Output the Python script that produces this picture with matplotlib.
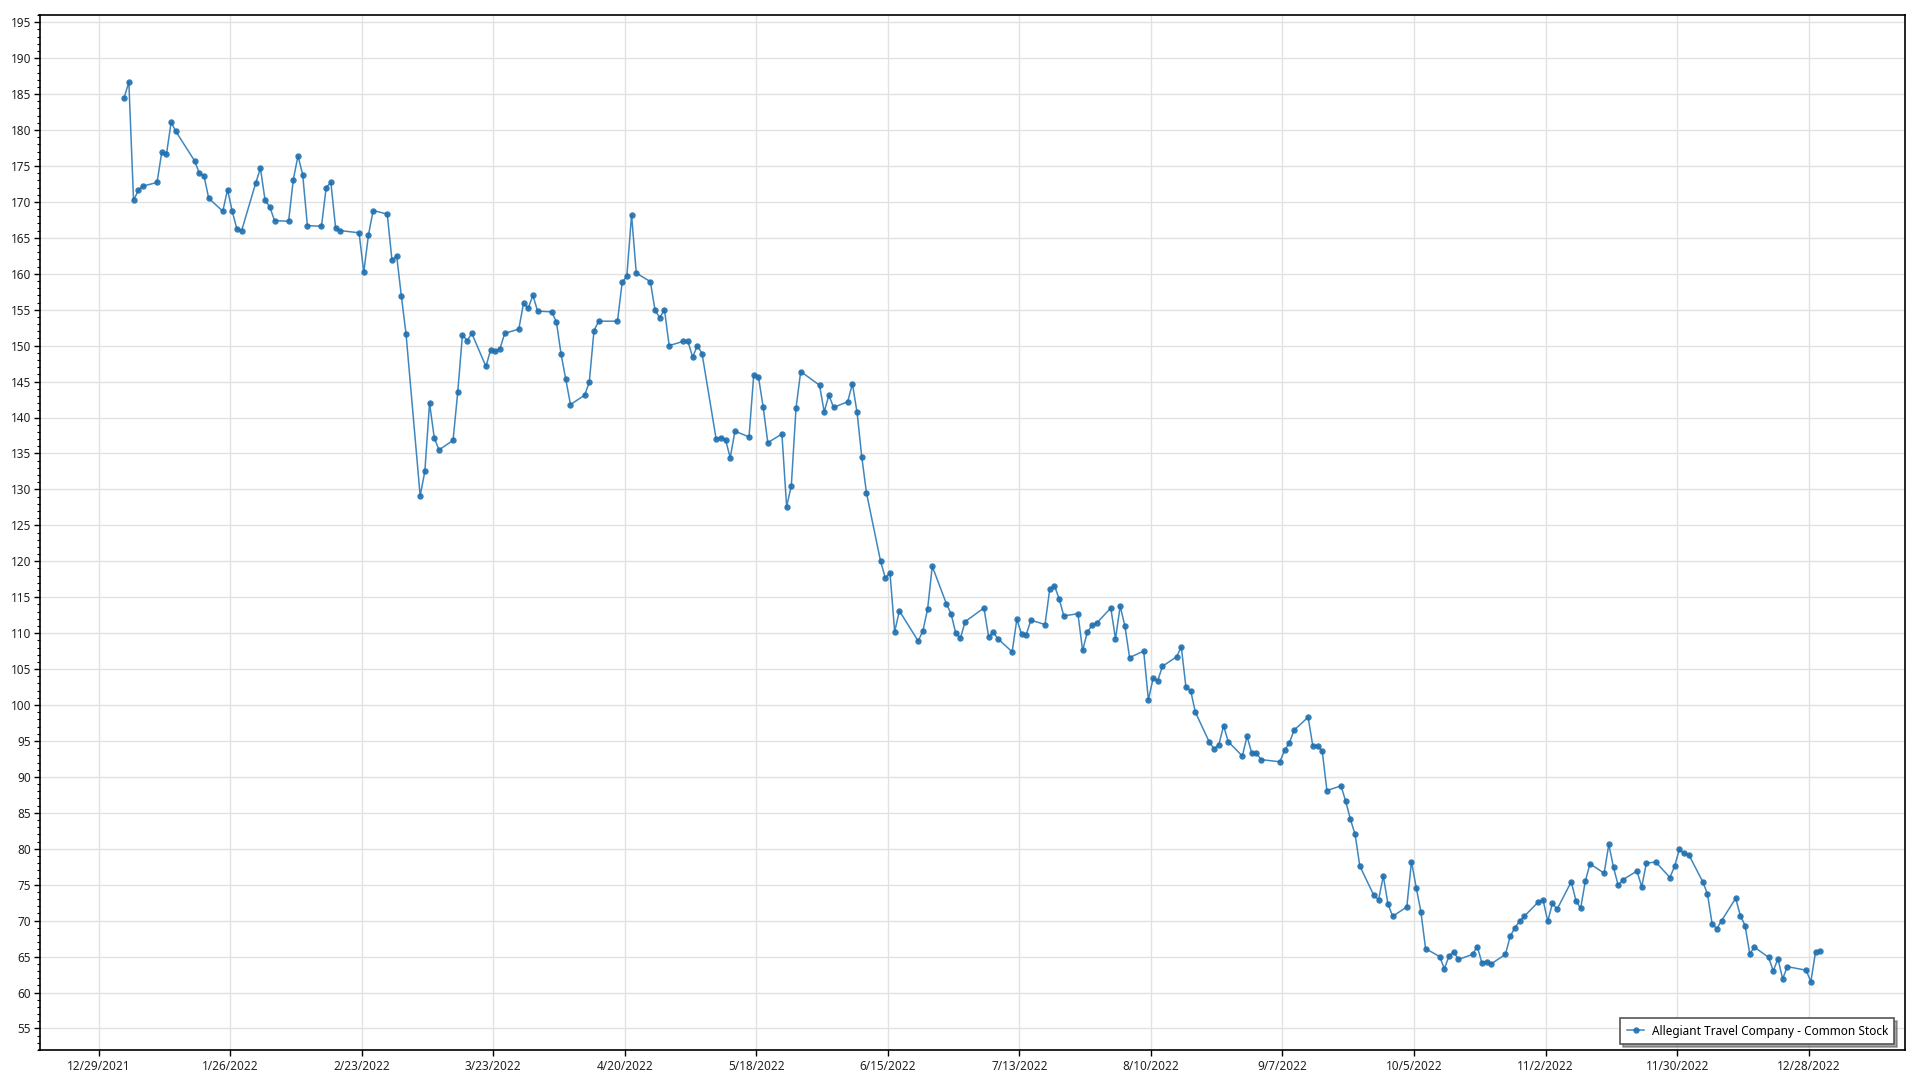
import matplotlib
matplotlib.use("Agg")
import matplotlib.pyplot as plt
import matplotlib.dates as mdates
from matplotlib.ticker import MultipleLocator, FixedLocator, FuncFormatter
import pandas as pd
import numpy as np

# ---------------- data ----------------
series_name = "Allegiant Travel Company - Common Stock"

holidays_2022 = ["2022-01-17", "2022-02-21", "2022-04-15", "2022-05-30", "2022-06-20",
                 "2022-07-04", "2022-09-05", "2022-11-24", "2022-12-26"]

jan = [184.5, 186.65, 170.2, 171.6, 172.2, 172.7, 176.9, 176.6, 181.1, 179.8,
       175.7, 174.0, 173.6, 170.5, 168.7, 171.7, 168.7, 166.2, 166.0, 172.6]
feb = [174.7, 170.2, 169.3, 167.4, 167.3, 173.1, 176.4, 173.8, 166.7, 166.6,
       172.0, 172.7, 166.4, 166.0, 165.7, 160.2, 165.4, 168.8, 168.3]
mar = [161.9, 162.5, 156.9, 151.6, 129.1, 132.5, 142.0, 137.2, 135.5, 136.8,
       143.5, 151.5, 150.7, 151.7, 147.1, 149.4, 149.2, 149.6, 151.7, 152.3,
       155.9, 155.2, 157.0]
apr = [154.8, 154.7, 153.3, 148.8, 145.3, 141.8, 143.1, 144.9, 152.1, 153.4,
       153.4, 158.8, 159.7, 168.2, 160.1, 158.9, 154.9, 153.9, 155.0, 150.0]
may = [150.6, 150.6, 148.4, 150.0, 148.9, 137.0, 137.2, 136.9, 134.4, 138.1,
       137.3, 145.9, 145.7, 141.5, 136.5, 137.7, 127.6, 130.5, 141.3, 146.4, 144.5]
jun = [140.8, 143.1, 141.4, 142.2, 144.7, 140.7, 134.5, 129.5, 120.0, 117.7,
       118.4, 110.2, 113.1, 108.9, 110.3, 113.3, 119.3, 114.1, 112.7, 110.0, 109.3]
jul = [111.6, 113.5, 109.5, 110.1, 109.2, 107.4, 111.9, 109.9, 109.8, 111.8,
       111.2, 116.1, 116.6, 114.8, 112.4, 112.7, 107.6, 110.1, 111.1, 111.4]
aug = [113.5, 109.2, 113.75, 111.0, 106.6, 107.5, 100.7, 103.7, 103.4, 105.4,
       106.7, 108.1, 102.45, 102.0, 99.0, 94.8, 93.9, 94.5, 97.1, 94.9,
       92.9, 95.65, 93.3]
sep = [93.3, 92.4, 92.1, 93.75, 94.7, 96.5, 98.3, 94.3, 94.3, 93.6,
       88.1, 88.75, 86.6, 84.1, 82.0, 77.6, 73.5, 72.9, 76.2, 72.3, 70.6]
oct_ = [71.9, 78.2, 74.6, 71.25, 66.1, 65.0, 63.3, 65.1, 65.65, 64.6,
        65.3, 66.4, 64.1, 64.3, 64.0, 65.3, 67.8, 69.0, 69.9, 70.6, 72.6]
nov = [72.9, 69.9, 72.4, 71.6, 75.4, 72.8, 71.7, 75.5, 77.9, 76.6,
       80.6, 77.4, 74.9, 75.7, 76.9, 74.7, 78.0, 78.15, 76.0, 77.55, 79.9]
dec = [79.35, 79.2, 75.4, 73.7, 69.5, 68.9, 70.0, 73.1, 70.7, 69.3,
       65.4, 66.3, 64.9, 63.0, 64.7, 61.9, 63.6, 63.1, 61.5, 65.65, 65.8]

prices = jan + feb + mar + apr + may + jun + jul + aug + sep + oct_ + nov + dec
dates = pd.bdate_range("2022-01-03", "2022-12-30", freq="C", holidays=holidays_2022)

tick_start = "2021-12-29"
tick_step_days = 28
tick_count = 14

# ---------------- plot ----------------
plt.rcParams['font.family'] = ['Noto Sans', 'DejaVu Sans']
fig = plt.figure(figsize=(19.2, 10.8), dpi=100)
ax = fig.add_axes([39.5 / 1920, 1 - 1050 / 1080, (1905 - 39.5) / 1920, (1050 - 15) / 1080])

xdates = dates + pd.Timedelta(hours=11)
ax.plot(xdates, prices, color='#2a7ab8', linewidth=1.1, alpha=0.9, zorder=3,
        marker='o', markersize=4.6, markerfacecolor='#1f6fae', markeredgecolor='#1f6fae',
        markeredgewidth=0, label=series_name)

t0 = mdates.date2num(pd.Timestamp(tick_start))
ax.set_xlim(t0 - 12.56, t0 + 384.5)
ax.set_ylim(52, 196)

ticks = [t0 + tick_step_days * k for k in range(tick_count)]
ax.xaxis.set_major_locator(FixedLocator(ticks))

def fmt_date(x, pos=None):
    d = mdates.num2date(x)
    return f"{d.month}/{d.day}/{d.year}"

ax.xaxis.set_major_formatter(FuncFormatter(fmt_date))
ax.yaxis.set_major_locator(MultipleLocator(5))
ax.yaxis.set_minor_locator(MultipleLocator(1))

ax.grid(True, which='major', color='#e2e2e2', linewidth=1.0, zorder=0)
ax.set_axisbelow(True)
ax.tick_params(axis='both', which='major', labelsize=8.5, length=4, width=1,
               color='black', labelcolor='#222222', direction='out')
ax.tick_params(axis='y', which='minor', length=2, width=0.8, color='black')
ax.tick_params(axis='x', which='major', pad=3)
ax.tick_params(axis='y', which='major', pad=2)
for s in ax.spines.values():
    s.set_color('black')
    s.set_linewidth(1.2)

leg = ax.legend(loc='lower right', fontsize=8.5, frameon=True, fancybox=False,
                shadow=True, edgecolor='#555555', framealpha=1, borderpad=0.55,
                handlelength=1.5, handletextpad=0.6,
                bbox_to_anchor=(0.9975, 0.0))
leg.get_frame().set_linewidth(1.2)

fig.savefig("out.png", dpi=100, facecolor='white')
